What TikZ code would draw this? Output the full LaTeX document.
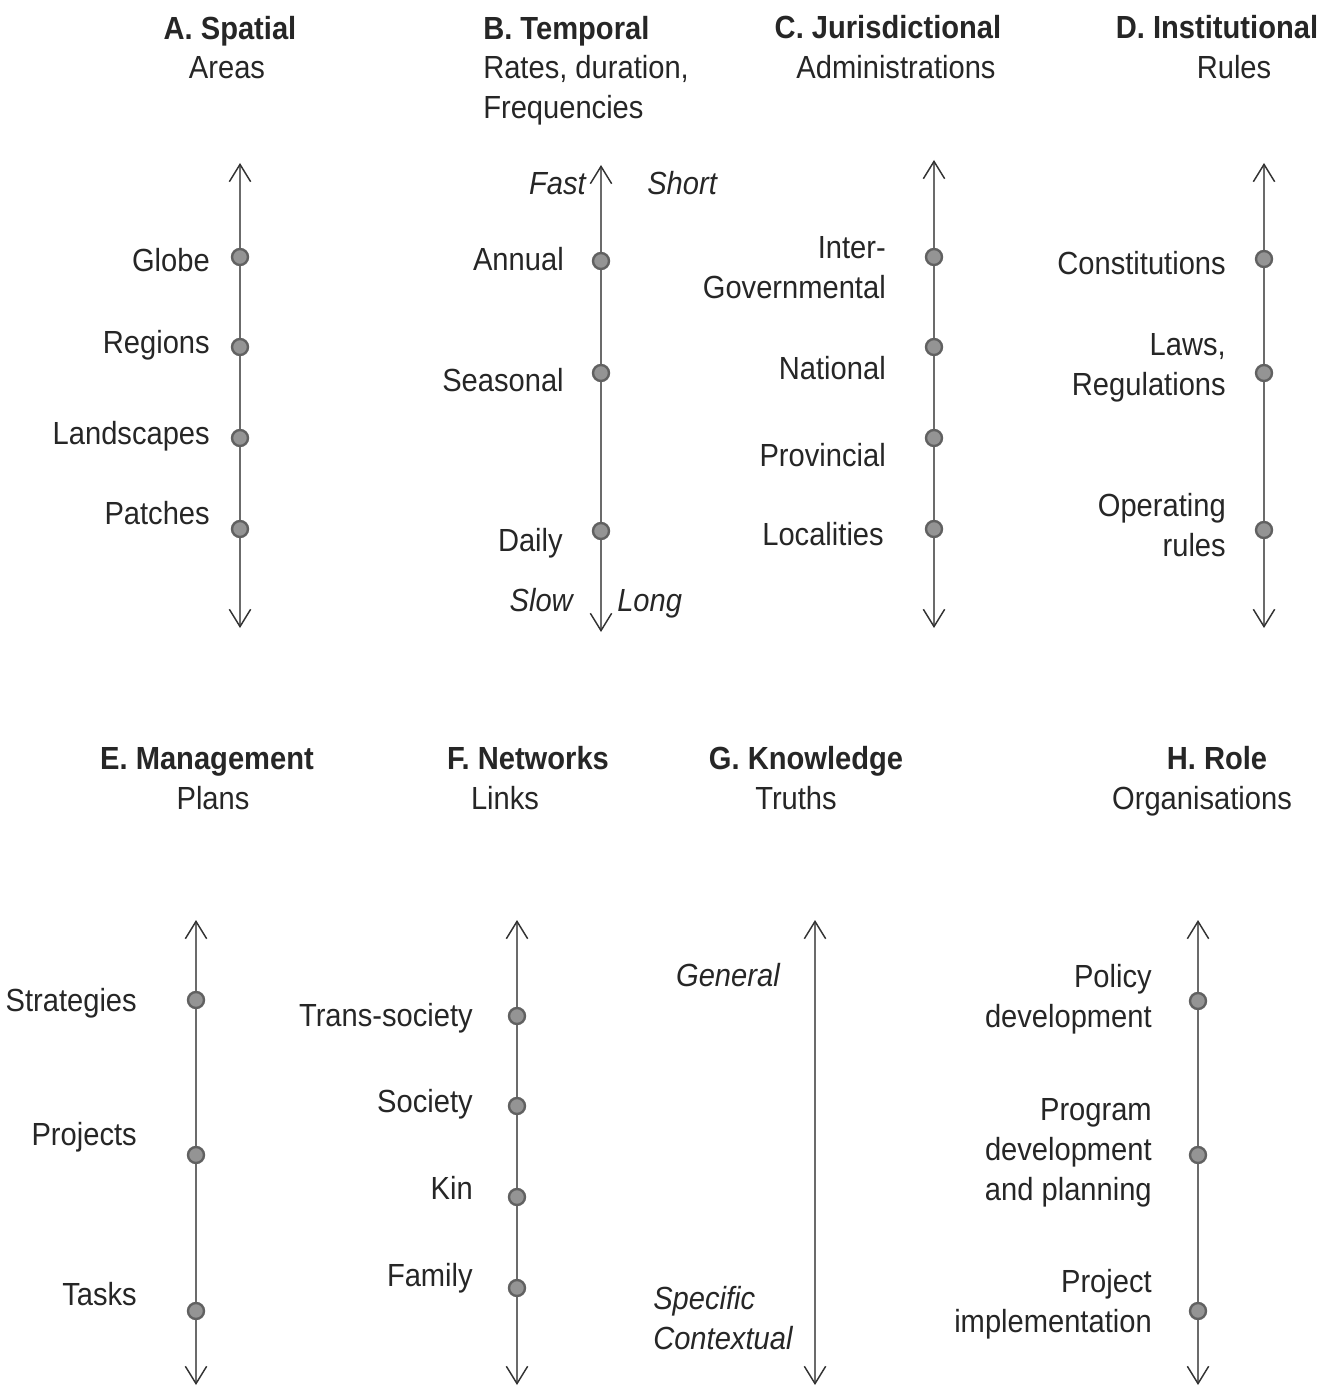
\documentclass[tikz,border=0pt]{standalone}
\usepackage{fontspec}
\setmainfont[FakeStretch=0.91]{Liberation Sans}
\usetikzlibrary{arrows.meta}
\begin{document}
\begin{tikzpicture}[x=0.75pt,y=-0.75pt,
  every node/.style={font=\fontsize{24}{30}\selectfont, inner sep=0pt, text=black!85},
  sl/.style={text height=17.2pt, text depth=0pt},
  axisline/.style={draw=black!58, line width=1.6pt,
    {Straight Barb[length=13pt,width=16pt,line width=1.1pt,color=black!80]}-{Straight Barb[length=13pt,width=16pt,line width=1.1pt,color=black!80]}},
  dot/.style={circle, minimum size=12pt, fill=black!42, draw=black!62, line width=1.8pt},
  lab/.style={anchor=east, align=right},
  labl/.style={anchor=west, align=left},
  ttl/.style={font=\fontsize{24}{30}\selectfont\bfseries},
  ital/.style={font=\fontsize{24}{30}\selectfont\itshape}]
\useasboundingbox (0,0) rectangle (1335,1387);

% ---------- A. Spatial ----------
\node[ttl,sl] (Ata) at (230,28) {A. Spatial};
\node[sl] (Atb) at (227,67) {Areas};
\coordinate (Atop) at (240,163);
\coordinate (Abot) at (240,628);
\draw[axisline] (Abot) -- (Atop);
\node[dot] (A1) at (240,257) {};
\node[dot] (A2) at (240,347) {};
\node[dot] (A3) at (240,438) {};
\node[dot] (A4) at (240,529) {};
\node[lab,sl] (Al1) at (210,260) {Globe};
\node[lab,sl] (Al2) at (210,342) {Regions};
\node[lab,sl] (Al3) at (210,433) {Landscapes};
\node[lab,sl] (Al4) at (210,513) {Patches};

% ---------- B. Temporal ----------
\node[ttl,sl,anchor=west] (Bta) at (483,28) {B. Temporal};
\node[labl] (Btb) at (483,90) {Rates, duration,\\Frequencies};
\coordinate (Btop) at (601,165);
\coordinate (Bbot) at (601,632);
\draw[axisline] (Bbot) -- (Btop);
\node[dot] (B1) at (601,261) {};
\node[dot] (B2) at (601,373) {};
\node[dot] (B3) at (601,531) {};
\node[lab,sl] (Bl1) at (564,259) {Annual};
\node[lab,sl] (Bl2) at (564,380) {Seasonal};
\node[lab,sl] (Bl3) at (563,540) {Daily};
\node[ital,sl,anchor=east] (Bf) at (586,183) {Fast};
\node[ital,sl,anchor=west] (Bs) at (647,183) {Short};
\node[ital,sl,anchor=east] (Bsl) at (573,600) {Slow};
\node[ital,sl,anchor=west] (Blg) at (617,600) {Long};

% ---------- C. Jurisdictional ----------
\node[ttl,sl] (Cta) at (888,27) {C. Jurisdictional};
\node[sl] (Ctb) at (896,67) {Administrations};
\coordinate (Ctop) at (934,160);
\coordinate (Cbot) at (934,628);
\draw[axisline] (Cbot) -- (Ctop);
\node[dot] (C1) at (934,257) {};
\node[dot] (C2) at (934,347) {};
\node[dot] (C3) at (934,438) {};
\node[dot] (C4) at (934,529) {};
\node[lab] (Cl1) at (886,268) {Inter-\\Governmental};
\node[lab,sl] (Cl2) at (886,368) {National};
\node[lab,sl] (Cl3) at (886,455) {Provincial};
\node[lab,sl] (Cl4) at (884,534) {Localities};

% ---------- D. Institutional ----------
\node[ttl,sl] (Dta) at (1217,27) {D. Institutional};
\node[sl] (Dtb) at (1234,67) {Rules};
\coordinate (Dtop) at (1264,163);
\coordinate (Dbot) at (1264,628);
\draw[axisline] (Dbot) -- (Dtop);
\node[dot] (D1) at (1264,259) {};
\node[dot] (D2) at (1264,373) {};
\node[dot] (D3) at (1264,530) {};
\node[lab,sl] (Dl1) at (1226,263) {Constitutions};
\node[lab] (Dl2) at (1226,368) {Laws,\\Regulations};
\node[lab] (Dl3) at (1226,525) {Operating\\rules};

% ---------- E. Management ----------
\node[ttl,sl] (Eta) at (207,758) {E. Management};
\node[sl] (Etb) at (213,798) {Plans};
\coordinate (Etop) at (196,920);
\coordinate (Ebot) at (196,1385);
\draw[axisline] (Ebot) -- (Etop);
\node[dot] (E1) at (196,1000) {};
\node[dot] (E2) at (196,1155) {};
\node[dot] (E3) at (196,1311) {};
\node[lab,sl] (El1) at (137,1000) {Strategies};
\node[lab,sl] (El2) at (137,1134) {Projects};
\node[lab,sl] (El3) at (137,1294) {Tasks};

% ---------- F. Networks ----------
\node[ttl,sl] (Fta) at (528,758) {F. Networks};
\node[sl] (Ftb) at (505,798) {Links};
\coordinate (Ftop) at (517,920);
\coordinate (Fbot) at (517,1385);
\draw[axisline] (Fbot) -- (Ftop);
\node[dot] (F1) at (517,1016) {};
\node[dot] (F2) at (517,1106) {};
\node[dot] (F3) at (517,1197) {};
\node[dot] (F4) at (517,1288) {};
\node[lab,sl] (Fl1) at (473,1015) {Trans-society};
\node[lab,sl] (Fl2) at (473,1101) {Society};
\node[lab,sl] (Fl3) at (473,1188) {Kin};
\node[lab,sl] (Fl4) at (473,1275) {Family};

% ---------- G. Knowledge ----------
\node[ttl,sl] (Gta) at (806,758) {G. Knowledge};
\node[sl] (Gtb) at (796,798) {Truths};
\coordinate (Gtop) at (815,920);
\coordinate (Gbot) at (815,1385);
\draw[axisline] (Gbot) -- (Gtop);
\node[ital,sl,anchor=east] (Gl1) at (780,975) {General};
\node[ital,anchor=west,align=left] (Gl2) at (653,1318) {Specific\\Contextual};

% ---------- H. Role ----------
\node[ttl,sl] (Hta) at (1217,758) {H. Role};
\node[sl] (Htb) at (1202,798) {Organisations};
\coordinate (Htop) at (1198,920);
\coordinate (Hbot) at (1198,1385);
\draw[axisline] (Hbot) -- (Htop);
\node[dot] (H1) at (1198,1001) {};
\node[dot] (H2) at (1198,1155) {};
\node[dot] (H3) at (1198,1311) {};
\node[lab] (Hl1) at (1152,999) {Policy\\development};
\node[lab] (Hl2) at (1152,1153) {Program\\development\\and planning};
\node[lab] (Hl3) at (1152,1304) {Project\\implementation};
\end{tikzpicture}
\end{document}
